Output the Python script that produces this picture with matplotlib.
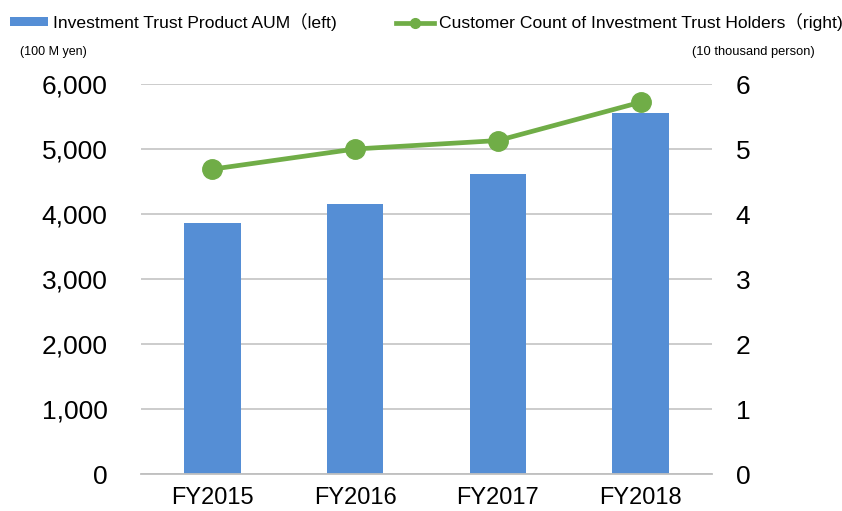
import matplotlib
matplotlib.use("Agg")
import matplotlib.pyplot as plt
from matplotlib.lines import Line2D
from matplotlib.patches import Patch

plt.rcParams['font.family'] = ['Liberation Sans', 'Noto Sans CJK JP', 'DejaVu Sans']

# data
years = ['FY2015', 'FY2016', 'FY2017', 'FY2018']
aum = [3857, 4149, 4620, 5554]          # 100 M yen
holders = [4.69, 5.00, 5.13, 5.72]      # 10 thousand persons
left_ticks = [0, 1000, 2000, 3000, 4000, 5000, 6000]
right_ticks = [0, 1, 2, 3, 4, 5, 6]

blue = '#558ED5'
green = '#70AD47'
grid_c = '#C8C8C8'

fig = plt.figure(figsize=(8.42, 5.11), dpi=100)
ax = fig.add_axes([0.1675, 0.0724, 0.6781, 0.7632])
x = range(len(years))

ax.bar(x, aum, width=0.395, color=blue, zorder=2)
ax.set_xlim(-0.5, 3.5)
ax.set_ylim(0, 6000)
ax.set_yticks(left_ticks)
ax.set_yticklabels([f'{v:,}' for v in left_ticks], fontsize=19)
ax.set_xticks(list(x))
ax.set_xticklabels(years, fontsize=17)
ax.tick_params(axis='y', length=0, pad=24)
ax.tick_params(axis='x', length=0, pad=9)
ax.grid(axis='y', color=grid_c, linewidth=1.3, zorder=0)
for s in ['top', 'left', 'right']:
    ax.spines[s].set_visible(False)
ax.spines['bottom'].set_color('#BFBFBF')
ax.spines['bottom'].set_linewidth(1.3)
ax.spines['bottom'].set_zorder(3)

ax2 = ax.twinx()
ax2.plot(list(x), holders, color=green, linewidth=3.4, marker='o',
         markersize=14, zorder=4)
ax2.set_ylim(0, 6)
ax2.set_yticks(right_ticks)
ax2.set_yticklabels([str(v) for v in right_ticks], fontsize=19)
ax2.tick_params(axis='y', length=0, pad=17)
for s in ['top', 'left', 'right', 'bottom']:
    ax2.spines[s].set_visible(False)

# unit labels
fig.text(20 / 842, 1 - 52 / 511, '(100 M yen)', fontsize=9, va='center', ha='left')
fig.text(815 / 842, 1 - 52 / 511, '(10 thousand person)', fontsize=9.3, va='center', ha='right')

handles = [Patch(facecolor=blue, edgecolor='none'),
           Line2D([0], [0], color=green, linewidth=3.4, marker='o', markersize=7)]
labels = ['Investment Trust Product AUM（left)',
          'Customer Count of Investment Trust Holders（right)']
fig.legend(handles, labels, loc='center left', bbox_to_anchor=(10 / 842, 1 - 22 / 511),
           ncol=2, frameon=False, fontsize=12.6, handlelength=2.15, handleheight=0.45,
           handletextpad=0.3, columnspacing=3.4, borderaxespad=0, borderpad=0)

fig.savefig('out.png', dpi=100)
